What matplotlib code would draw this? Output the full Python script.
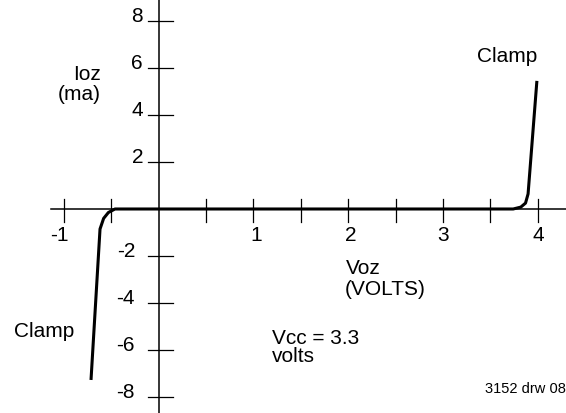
import matplotlib.pyplot as plt

plt.rcParams['font.family'] = ['Liberation Sans', 'DejaVu Sans']

# I/V curve of the output clamp (volts, mA)
v_oz = [-0.713, -0.618, -0.58, -0.53, -0.46, 3.74, 3.82, 3.87, 3.897, 3.99]
i_oz = [-7.26, -0.85, -0.4, -0.15, 0.0, 0.0, 0.08, 0.25, 0.64, 5.44]

x_ticks = [-1, -0.5, 0.5, 1, 1.5, 2, 2.5, 3, 3.5, 4]
x_labels = {-1: '-1', 1: '1', 2: '2', 3: '3', 4: '4'}
y_ticks = [8, 6, 4, 2, -2, -4, -6, -8]

fig = plt.figure(figsize=(5.66, 4.14), dpi=100)
ax = fig.add_axes([0, 0, 1, 1])
ax.set_xlim(-1.673, 4.297)
ax.set_ylim(-8.663, 8.917)
ax.axis('off')

# axes through the origin
ax.plot([-1.135, 4.4], [0, 0], color='black', lw=1.1)
ax.plot([0, 0], [-9, 9], color='black', lw=1.1)

for x in x_ticks:
    ax.plot([x, x], [0.42, -0.55], color='black', lw=0.9)
for y in y_ticks:
    ax.plot([-0.112, 0.151], [y, y], color='black', lw=0.9)

fs = 15
for x, s in x_labels.items():
    dx = 0.03 if x in (1, 2) else 0
    if x == -1:
        dx = -0.05
    ax.text(x + dx, -1.32, s, ha='center', va='baseline', fontsize=fs)
for y in y_ticks:
    xr = -0.164 if y > 0 else -0.249
    ax.text(xr, y, str(y), ha='right', va='baseline', fontsize=fs)

ax.plot(v_oz, i_oz, color='black', lw=2.2, solid_capstyle='butt')

ax.text(-0.608, 5.52, 'Ioz', ha='right', va='baseline', fontsize=fs)
ax.text(-0.608, 4.67, '(ma)', ha='right', va='baseline', fontsize=fs)
ax.text(3.675, 6.28, 'Clamp', ha='center', va='baseline', fontsize=fs)
ax.text(-1.525, -5.39, 'Clamp', ha='left', va='baseline', fontsize=fs)
ax.text(1.977, -2.72, 'Voz', ha='left', va='baseline', fontsize=fs)
ax.text(1.966, -3.61, '(VOLTS)', ha='left', va='baseline', fontsize=fs)
ax.text(1.196, -6.45, 'Vcc = 3.3\nvolts', ha='left', va='baseline',
        fontsize=fs, linespacing=0.9)
ax.text(3.443, -7.77, '3152 drw 08', ha='left', va='baseline', fontsize=10.5)

fig.savefig('out.png', dpi=100)
